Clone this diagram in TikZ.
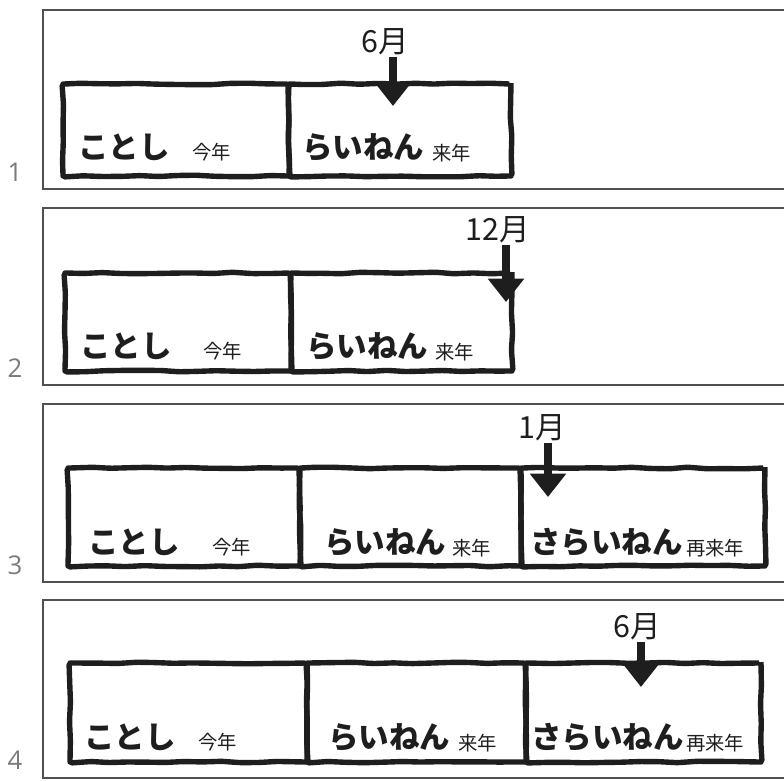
\documentclass[tikz,border=0pt]{standalone}
\usepackage{fontspec}
\newfontfamily\jpfont{Noto Sans CJK JP}
\setsansfont{Open Sans}
\usetikzlibrary{arrows.meta, positioning, fit, decorations.pathmorphing}
\definecolor{InkBlack}{HTML}{1E1E1E}
\definecolor{FrameGray}{HTML}{505050}
\definecolor{NumGray}{HTML}{7A7A7A}
\tikzset{
    frame/.style={draw=FrameGray, line width=1.1pt},
    cell/.style={rectangle, draw=InkBlack, line width=4.6pt, inner sep=0pt, line join=round, rounded corners=1.5pt, decorate, decoration={random steps, segment length=16pt, amplitude=0.7pt}},
    kana/.style={anchor=base west, text=InkBlack, inner sep=0pt, font=\jpfont\bfseries\fontsize{26}{26}\selectfont},
    kanji/.style={anchor=base west, text=InkBlack, inner sep=0pt, font=\jpfont\fontsize{16.5}{16.5}\selectfont},
    month/.style={text=InkBlack, inner sep=1pt, font=\jpfont\fontsize{26}{26}\selectfont},
    arr/.style={-{Triangle[width=30pt, length=20pt]}, line width=7pt, draw=InkBlack},
    num/.style={text=NumGray, font=\sffamily\fontsize{22}{22}\selectfont},
}

\begin{document}
\begin{tikzpicture}[x=0.03cm, y=-0.03cm]
\useasboundingbox (0,0) rectangle (784,780);

% Panel frames
\draw[frame] (784,10) -- (43,10) -- (43,189) -- (784,189);
\draw[frame] (784,208) -- (43,208) -- (43,385) -- (784,385);
\draw[frame] (784,404) -- (43,404) -- (43,582) -- (784,582);
\draw[frame] (784,600) -- (43,600) -- (43,778) -- (784,778);
\node[num] (n1) at (15,172) {1};
\node[num] (n2) at (15,368) {2};
\node[num] (n3) at (15,565) {3};
\node[num] (n4) at (15,760) {4};

% Panel 1: June
\node[cell, fit={(63,84) (289,176)}] (kotoshi1) {};
\node[cell, fit={(289,84) (511,176)}] (rainen1) {};
\node[kana] (k1a) at (78,158) {ことし};
\node[kanji] (k1b) at (192,159) {今年};
\node[kana] (r1a) at (302,158) {らいねん};
\node[kanji] (r1b) at (432,160) {来年};
\node[month] (m1) at (385,42) {6月};
\coordinate (tip1) at (393,106);
\draw[arr] (m1.south -| tip1) -- (tip1);

% Panel 2: December
\node[cell, fit={(65,273) (291,371)}] (kotoshi2) {};
\node[cell, fit={(291,273) (512,371)}] (rainen2) {};
\node[kana] (k2a) at (80,357) {ことし};
\node[kanji] (k2b) at (203,358) {今年};
\node[kana] (r2a) at (306,357) {らいねん};
\node[kanji] (r2b) at (435,359) {来年};
\node[month] (m2) at (498,230) {12月};
\coordinate (tip2) at (506,302);
\draw[arr] (m2.south -| tip2) -- (tip2);

% Panel 3: January
\node[cell, fit={(68,468) (300,566)}] (kotoshi3) {};
\node[cell, fit={(300,468) (521,566)}] (rainen3) {};
\node[cell, fit={(521,468) (765,566)}] (sarainen3) {};
\node[kana] (k3a) at (88,553) {ことし};
\node[kanji] (k3b) at (212,554) {今年};
\node[kana] (r3a) at (324,553) {らいねん};
\node[kanji] (r3b) at (452,555) {来年};
\node[kana] (s3a) at (530,553) {さらいねん};
\node[kanji] (s3b) at (686,555) {再来年};
\node[month] (m3) at (542,428) {1月};
\coordinate (tip3) at (548,497);
\draw[arr] (m3.south -| tip3) -- (tip3);

% Panel 4: June again
\node[cell, fit={(70,663) (307,762)}] (kotoshi4) {};
\node[cell, fit={(307,663) (526,762)}] (rainen4) {};
\node[cell, fit={(526,663) (761,762)}] (sarainen4) {};
\node[kana] (k4a) at (84,748) {ことし};
\node[kanji] (k4b) at (198,749) {今年};
\node[kana] (r4a) at (328,748) {らいねん};
\node[kanji] (r4b) at (458,750) {来年};
\node[kana] (s4a) at (531,748) {さらいねん};
\node[kanji] (s4b) at (686,750) {再来年};
\node[month] (m4) at (637,627) {6月};
\coordinate (tip4) at (641,687);
\draw[arr] (m4.south -| tip4) -- (tip4);

\end{tikzpicture}
\end{document}
